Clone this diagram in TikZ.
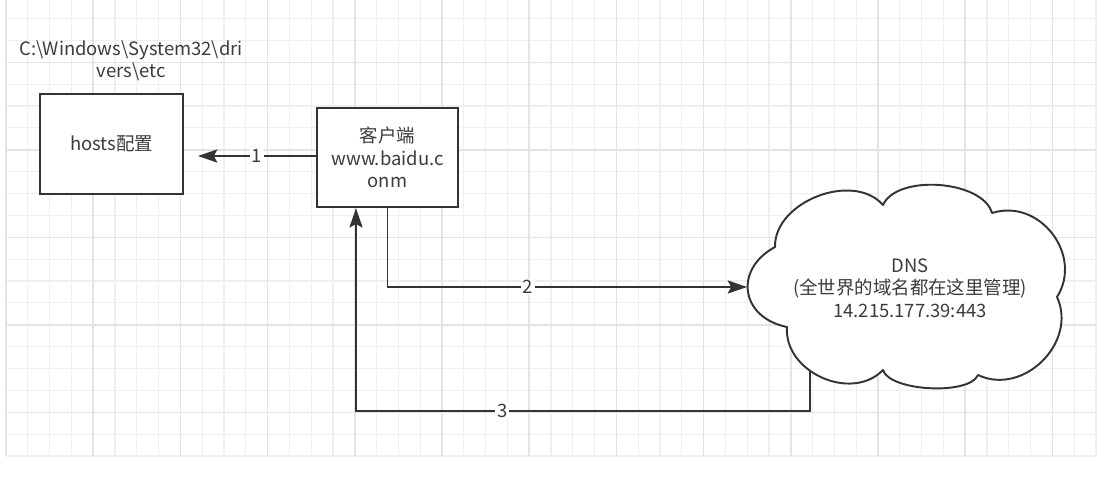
\documentclass[tikz,border=0pt]{standalone}
\usepackage{fontspec}
\setmainfont{Noto Sans CJK SC}
\usetikzlibrary{arrows.meta}
\definecolor{inkgray}{HTML}{333333}
\definecolor{txtgray}{HTML}{3C3C3C}
\definecolor{gridminor}{HTML}{EFEFEF}
\definecolor{gridmajor}{HTML}{E4E4E4}
\tikzset{
    box/.style = {draw = inkgray, line width = 1.4pt, fill = white, text = txtgray, align = center, inner sep = 0pt},
    link/.style = {draw = inkgray, line width = 1.1pt, -{Stealth[length = 11pt, width = 7.5pt, inset = 2pt]}},
    lbl/.style = {fill = white, text = txtgray, inner sep = 1pt},
    cloudline/.style = {draw = inkgray, line width = 1.1pt, fill = white, line join = round}
}
\begin{document}
\begin{tikzpicture}[x = 0.02cm, y = -0.02cm, font = \fontsize{10.5}{12.8}\selectfont]
                \useasboundingbox (0,0) rectangle (1120,491);
                \fill[white] (0,0) rectangle (1120,491);
                \foreach \k in {0,...,50}{
                    \draw[gridminor, line width = 0.6pt] ({6+21.8*\k},0) -- ({6+21.8*\k},456);
                }
                \foreach \k in {0,...,20}{
                    \draw[gridminor, line width = 0.6pt] (6,{456-21.875*\k}) -- (1096,{456-21.875*\k});
                }
                \foreach \k in {0,4,...,48}{
                    \draw[gridmajor, line width = 0.85pt] ({6+21.8*\k},0) -- ({6+21.8*\k},456);
                }
                \foreach \k in {2,6,...,18}{
                    \draw[gridmajor, line width = 0.85pt] (6,{456-21.875*\k}) -- (1096,{456-21.875*\k});
                }
                \node[text = txtgray, align = center] (path) at (131,61) {C:\textbackslash Windows\textbackslash System32\textbackslash dri\\vers\textbackslash etc};
                \node[box, minimum width = 2.86cm, minimum height = 2cm] (hosts) at (111.5,144) {hosts配置};
                \node[box, minimum width = 2.82cm, minimum height = 1.98cm] (client) at (387.5,157.5) {客户端\\www.baidu.c\\onm};
                \coordinate (hostsin) at (198,156);
                \coordinate (dnsw) at (747,287);
                \coordinate (dnsb) at (810,360);
                \coordinate (back) at (356,411);
                \draw[link] (client.west |- hostsin) -- node[lbl] {1} (hostsin);
                \draw[link] (client.south) |- node[lbl, pos = 0.695] {2} (dnsw);
                \draw[link] (dnsb) |- node[lbl, pos = 0.839] {3} (back) -- (back |- client.south);
                \draw[cloudline] (775,247) to[bend left = 70, looseness = 1.0] (883,205)
                    to[bend left = 70, looseness = 0.8] (992,213)
                    to[bend left = 70, looseness = 1.2] (1057,297)
                    to[bend left = 70, looseness = 1.15] (978,375)
                    to[bend left = 70, looseness = 0.6] (883,370)
                    to[bend left = 70, looseness = 1.1] (787,327)
                    to[bend left = 70, looseness = 1.5] (775,247) -- cycle;
                \node[text = txtgray, align = center] (dns) at (910,288) {DNS\\(全世界的域名都在这里管理)\\14.215.177.39:443};
            \end{tikzpicture}
\end{document}
